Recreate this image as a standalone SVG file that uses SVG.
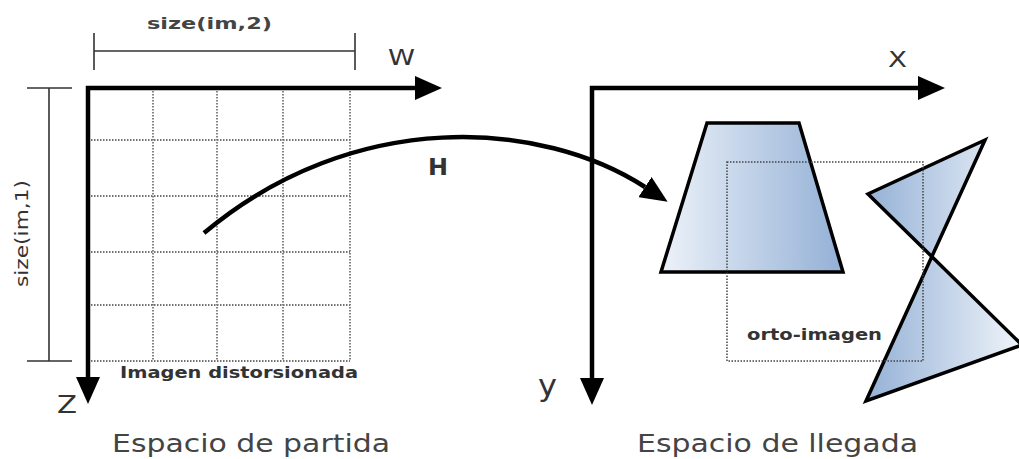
<svg xmlns="http://www.w3.org/2000/svg" width="1019" height="459" viewBox="0 0 1019 459">
<defs>
<marker id="ah" viewBox="0 0 27 24" refX="0" refY="12" markerWidth="27" markerHeight="24" markerUnits="userSpaceOnUse" orient="auto-start-reverse">
<path d="M0,0 L27,12 L0,24 z" fill="#000"/>
</marker>
<linearGradient id="gTrap" x1="0" y1="0" x2="1" y2="0">
<stop offset="0" stop-color="#edf2f9"/>
<stop offset="1" stop-color="#93b0d6"/>
</linearGradient>
<linearGradient id="gBow" x1="0" y1="0" x2="1" y2="0">
<stop offset="0" stop-color="#94b1d6"/>
<stop offset="1" stop-color="#f0f4fa"/>
</linearGradient>
</defs>
<style>
.axis{fill:none;stroke:#000;stroke-width:4.5;stroke-linejoin:miter;stroke-linecap:butt}
.dim{fill:none;stroke:#333;stroke-width:1.6}
.grid{fill:none;stroke:#444;stroke-width:1.5;stroke-dasharray:1.5 1.5}
.gridv{fill:none;stroke:#777;stroke-width:1.8;stroke-dasharray:1.5 1.5}
.shape{stroke:#000;stroke-width:3.5;stroke-linejoin:miter}
.lbl{font-family:"DejaVu Sans",Verdana,sans-serif;fill:#333}
.b{font-weight:bold}
.t{fill:#444}
</style>
<rect width="1019" height="459" fill="#fff"/>

<g id="grid-left">
<path class="grid" d="M88,140 H350 M88,196 H350 M88,252 H350 M88,305 H350 M88,361 H350"/>
<path class="gridv" d="M153,88 V361 M217,88 V361 M283,88 V361 M350,88 V361"/>
</g>

<g id="dim-top">
<path class="dim" d="M94,51 H355 M94,33 V70 M355,33 V70"/>
<text class="lbl b t" x="147" y="29" font-size="16" textLength="125" lengthAdjust="spacingAndGlyphs">size(im,2)</text>
</g>
<g id="dim-left">
<path class="dim" d="M49,88 V361 M27,88 H72 M27,361 H72"/>
<text class="lbl" x="28" y="287" font-size="17" textLength="107" lengthAdjust="spacingAndGlyphs" transform="rotate(-90 28 287)">size(im,1)</text>
</g>

<g id="axes-left">
<path class="axis" d="M88,377 V88 H415" marker-start="url(#ah)" marker-end="url(#ah)"/>
<text class="lbl" x="388" y="65" font-size="21" textLength="27" lengthAdjust="spacingAndGlyphs">W</text>
<text class="lbl" x="57" y="413" font-size="24" textLength="20" lengthAdjust="spacingAndGlyphs">Z</text>
</g>

<g id="label-imagen">
<text class="lbl b" x="120" y="378" font-size="15" textLength="238" lengthAdjust="spacingAndGlyphs">Imagen distorsionada</text>
</g>
<g id="title-left">
<text class="lbl t" x="112" y="452" font-size="24" textLength="278" lengthAdjust="spacingAndGlyphs">Espacio de partida</text>
</g>

<g id="axes-right">
<path class="axis" d="M592,378 V88 H918" marker-start="url(#ah)" marker-end="url(#ah)"/>
<text class="lbl" x="888" y="67" font-size="21" textLength="19" lengthAdjust="spacingAndGlyphs">X</text>
<text class="lbl" x="538" y="396" font-size="30" textLength="19" lengthAdjust="spacingAndGlyphs">y</text>
</g>

<g id="trapezoid">
<polygon class="shape" fill="url(#gTrap)" points="707,123 799,123 843,272 661,272"/>
</g>
<g id="bowtie">
<polygon class="shape" fill="url(#gBow)" points="985,140 868,194 1022,345 866,401"/>
</g>
<g id="orto-imagen">
<rect class="grid" x="727" y="162" width="196" height="199"/>
<text class="lbl b" x="747" y="340" font-size="15" textLength="135" lengthAdjust="spacingAndGlyphs">orto-imagen</text>
</g>
<g id="title-right">
<text class="lbl t" x="637" y="452" font-size="24" textLength="281" lengthAdjust="spacingAndGlyphs">Espacio de llegada</text>
</g>

<g id="connectors">
<path class="axis" d="M204,233 C354,107 542,120 645,187" marker-end="url(#ah)"/>
<text class="lbl b" x="428" y="175" font-size="23" textLength="20" lengthAdjust="spacingAndGlyphs" fill="#000">H</text>
</g>
</svg>
